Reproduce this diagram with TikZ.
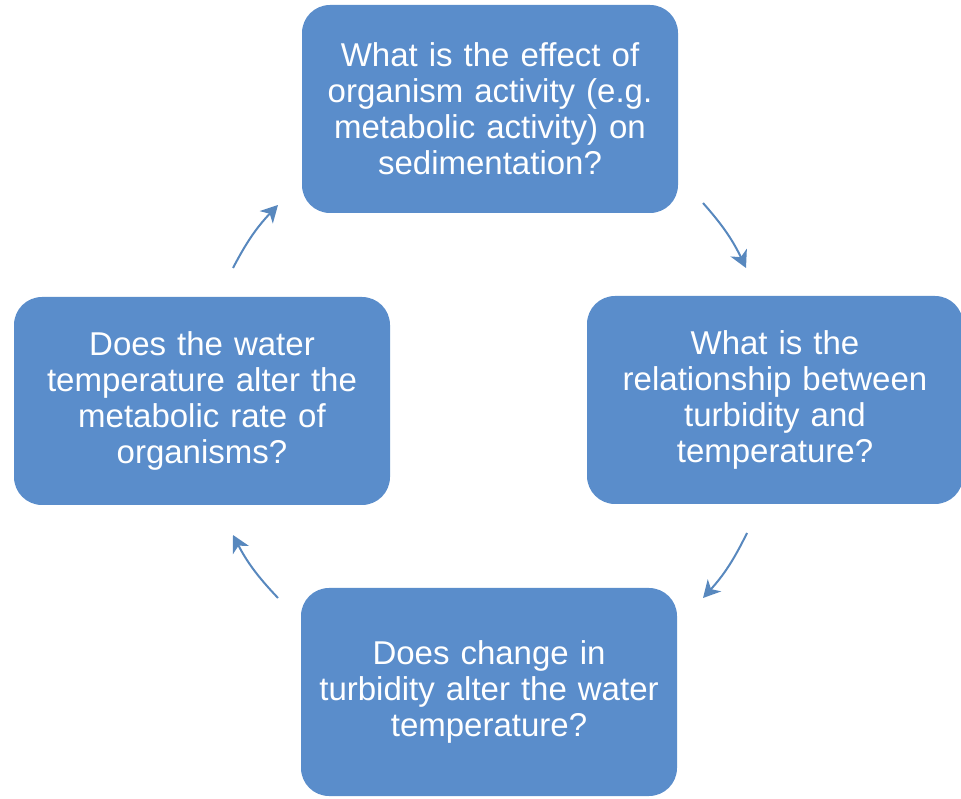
\documentclass[tikz,border=0pt]{standalone}
\usepackage{fontspec}
\setmainfont{Liberation Sans}
\usetikzlibrary{arrows.meta}
\definecolor{boxblue}{RGB}{90,141,203}
\definecolor{arrowblue}{RGB}{88,136,190}
\begin{document}
\begin{tikzpicture}[x=1pt,y=1pt,
  qbox/.style={fill=boxblue, draw=none, rounded corners=28pt,
    minimum width=376pt, minimum height=208pt, text width=360pt,
    align=center, text=white, inner sep=0pt,
    font=\fontsize{33}{36}\selectfont},
  cyc/.style={draw=arrowblue, line width=2pt, bend left=8,
    -{Stealth[length=17pt,width=18pt,inset=5pt]}}]
\useasboundingbox (0,0) rectangle (961,798);
% the four questions of the cycle
\node[qbox] (top) at (490,689) {What is the effect of\\organism activity (e.g.\\metabolic activity) on\\sedimentation?};
\node[qbox] (right) at (775,398) {What is the\\relationship between\\turbidity and\\temperature?};
\node[qbox] (bottom) at (489,106) {Does change in\\turbidity alter the water\\temperature?};
\node[qbox] (left) at (202,397) {Does the water\\temperature alter the\\metabolic rate of\\organisms?};
% arrow end points between the boxes
\coordinate (a1) at (233,530); \coordinate (b1) at (278,593);
\coordinate (a2) at (703,595); \coordinate (b2) at (746,530);
\coordinate (a3) at (747,265); \coordinate (b3) at (703,200);
\coordinate (a4) at (278,200); \coordinate (b4) at (233,263);
\draw[cyc] (a1) to (b1);
\draw[cyc] (a2) to (b2);
\draw[cyc] (a3) to (b3);
\draw[cyc] (a4) to (b4);
\end{tikzpicture}
\end{document}
